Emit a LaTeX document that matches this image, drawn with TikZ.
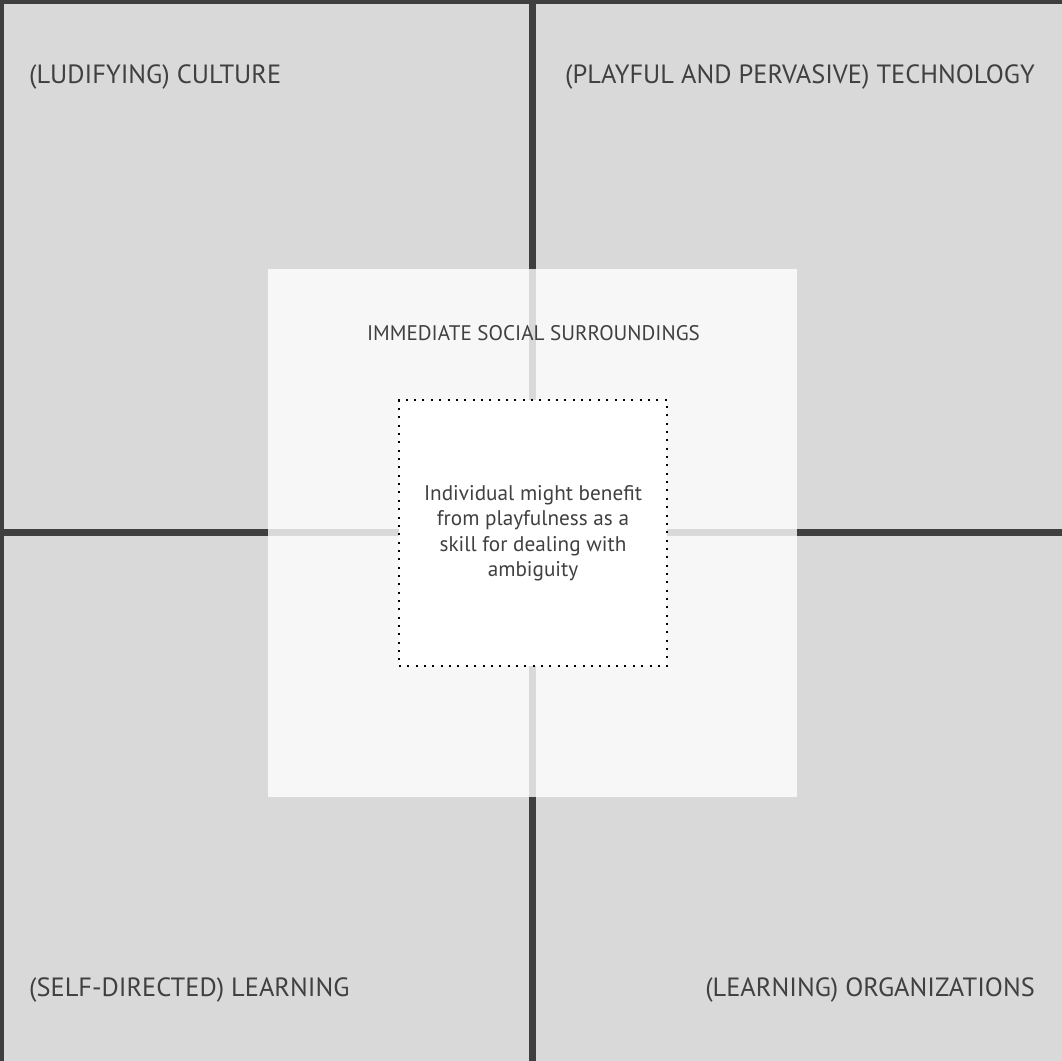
\documentclass[tikz,border=0pt]{standalone}
\usepackage{fontspec}
\setmainfont{PT Sans}
\usetikzlibrary{positioning}

\definecolor{quadfill}{HTML}{D9D9D9}
\definecolor{frameline}{HTML}{3F3F3F}
\definecolor{ringfill}{HTML}{F7F7F7}
\definecolor{labeltext}{HTML}{404040}

\tikzset{
  quadrant/.style={fill=quadfill, draw=frameline, line width=7pt},
  seam/.style={draw=quadfill, line width=7pt},
  domainlabel/.style={inner sep=0pt, text=labeltext, font=\fontsize{26.4}{31}\selectfont},
  ringlabel/.style={inner sep=0pt, text=labeltext, font=\fontsize{21.1}{25.5}\selectfont},
  corebox/.style={draw=black, fill=white, line width=2pt, dash pattern=on 2pt off 6.35pt,
    minimum width=268pt, minimum height=266pt, align=center, text=labeltext,
    font=\fontsize{21.2}{25.5}\selectfont}
}

\begin{document}
\begin{tikzpicture}[x=1pt, y=-1pt]
  \useasboundingbox (0,0) rectangle (1062,1060);
  \clip (0,0) rectangle (1062,1060);
  % four domains
  \foreach \x/\y in {0/0,532.5/0,0/532.5,532.5/532.5}{
    \draw[quadrant] (\x,\y) rectangle +(540,540);
  }
  % immediate surroundings
  \fill[ringfill] (268,269) rectangle (797,797);
  \draw[seam] (532.5,269) -- (532.5,797);
  \draw[seam] (268,532.5) -- (797,532.5);
  \node[ringlabel, anchor=base] (ring) at (533.5,340) {IMMEDIATE SOCIAL SURROUNDINGS};
  % individual
  \node[corebox] (core) at (533,533) {Individual might benefit\\from playfulness as a\\skill for dealing with\\ambiguity};
  % labels
  \node[domainlabel, anchor=base west] (culture) at (29,83) {(LUDIFYING) CULTURE};
  \node[domainlabel, anchor=base east] (technology) at (1035,83) {(PLAYFUL AND PERVASIVE) TECHNOLOGY};
  \node[domainlabel, anchor=base west] (learning) at (29,996) {(SELF-DIRECTED) LEARNING};
  \node[domainlabel, anchor=base east] (organizations) at (1035,996) {(LEARNING) ORGANIZATIONS};
\end{tikzpicture}
\end{document}
